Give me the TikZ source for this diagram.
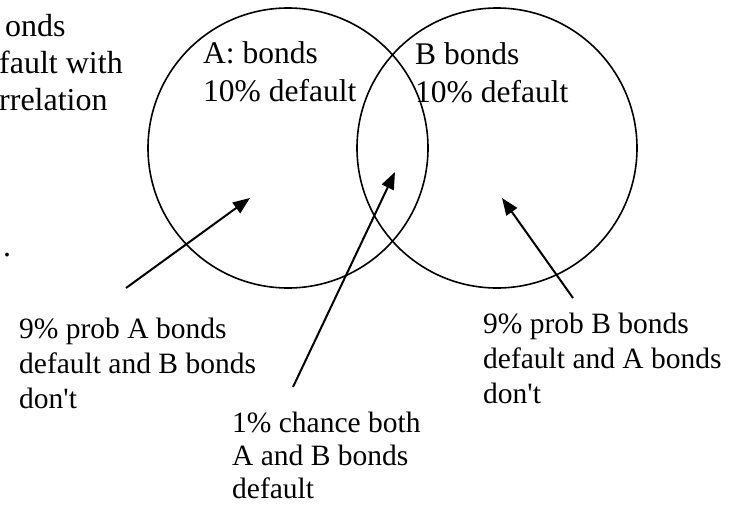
\documentclass[tikz,border=0pt]{standalone}
\usepackage{fontspec}
\setmainfont{Liberation Serif}[Ligatures=TeXOff]
\usetikzlibrary{arrows.meta}

\begin{document}
\begin{tikzpicture}[x=1pt, y=-1pt, >={Triangle[length=17pt, width=13pt]},
	txt/.style={font=\fontsize{29.5}{35}\selectfont, inner sep=0pt, align=left, anchor=north west},
	big/.style={font=\fontsize{31.5}{38}\selectfont},
	ring/.style={draw, circle, line width=1.6pt, minimum size=280pt, inner sep=0pt},
	pointer/.style={->, line width=2pt}]
	\useasboundingbox (0,0) rectangle (733,504);
	% the two sets
	\node[ring] (setA) at (288,148) {};
	\node[ring] (setB) at (497,148) {};
	\node[txt, big] (labA) at (203,41) {A: bonds\\10\% default};
	\node[txt, big] (labB) at (415,42) {B bonds\\10\% default};
	% text cut off at the left edge
	\node[txt, font=\fontsize{32}{37}\selectfont, anchor=base west] (cutA) at (5,36) {onds};
	\node[txt, font=\fontsize{32}{37}\selectfont, anchor=base west] (cutB) at (-1,73) {fault with};
	\node[txt, font=\fontsize{32}{37}\selectfont, anchor=base west] (cutC) at (-1,110) {rrelation};
	\node[txt, font=\fontsize{32}{37}\selectfont, anchor=base west] (cutD) at (3,256) {.};
	% the three regions
	\node[txt] (onlyA) at (19,318) {9\% prob A bonds\\default and B bonds\\don't};
	\node[txt] (onlyB) at (483,313) {9\% prob B bonds\\default and A bonds\\don't};
	\node[txt, font=\fontsize{29.5}{33}\selectfont] (both) at (232,412) {1\% chance both\\A and B bonds\\default};
	\coordinate (tailA) at (126,288);
	\coordinate (tipA) at (250,198);
	\coordinate (tailAB) at (293,387);
	\coordinate (tipAB) at (395,172);
	\coordinate (tailB) at (573,298);
	\coordinate (tipB) at (502,198);
	\draw[pointer] (tailA) -- (tipA);
	\draw[pointer] (tailAB) -- (tipAB);
	\draw[pointer] (tailB) -- (tipB);
\end{tikzpicture}
\end{document}
